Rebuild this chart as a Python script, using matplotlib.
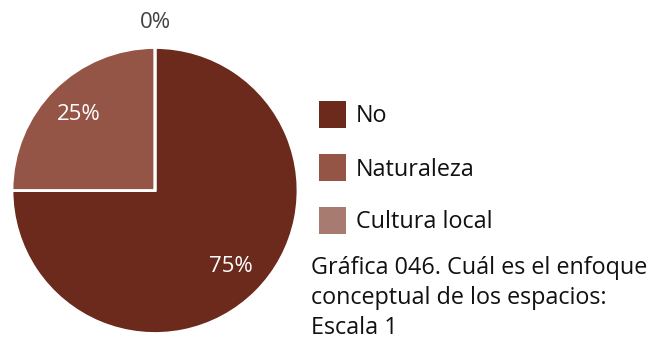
import matplotlib
matplotlib.use("Agg")
import matplotlib.pyplot as plt
from matplotlib.patches import Rectangle
import numpy as np

categories = ["No", "Naturaleza", "Cultura local"]
values = [75, 25, 0]
colors = ["#6B2A1B", "#955546", "#A87B70"]
caption = "Gráfica 046. Cuál es el enfoque\nconceptual de los espacios:\nEscala 1"

plt.rcParams["font.family"] = ["Open Sans", "DejaVu Sans"]

W, H = 652, 343
fig = plt.figure(figsize=(W / 100, H / 100), dpi=100)
cx, cy, r = 155, 190.5, 143
ax = fig.add_axes([(cx - r) / W, (H - cy - r) / H, 2 * r / W, 2 * r / H])

wedges, texts, autotexts = ax.pie(
    values, colors=colors, startangle=90, counterclock=False,
    autopct=lambda p: f"{p:.0f}%", pctdistance=0.75,
    wedgeprops=dict(edgecolor="white", linewidth=2),
    textprops=dict(color="white", fontsize=16),
)
# zero-valued slice: put its label outside the rim
for w, t, v in zip(wedges, autotexts, values):
    if v == 0:
        ang = np.deg2rad((w.theta1 + w.theta2) / 2)
        t.set_position((1.175 * np.cos(ang), 1.175 * np.sin(ang)))
        t.set_color("#404040")
ax.set_xlim(-1, 1)
ax.set_ylim(-1, 1)
ax.set_aspect("equal")
ax.axis("off")
for t in autotexts:
    t.set_clip_on(False)

# legend
lx, sq = 319, 27
ys = [101, 154, 207]
for lab, col, y in zip(categories, colors, ys):
    fig.patches.append(Rectangle((lx / W, 1 - (y + sq) / H), sq / W, sq / H,
                                 transform=fig.transFigure, facecolor=col,
                                 edgecolor="none"))
    fig.text(356 / W, 1 - (y + sq / 2 + 2) / H, lab, fontsize=16.8,
             va="center", ha="left", color="#111111")

fig.text(311 / W, 1 - 256 / H, caption, fontsize=16.8, va="top", ha="left",
         color="#111111", linespacing=1.32)

fig.savefig("out.png", dpi=100)
